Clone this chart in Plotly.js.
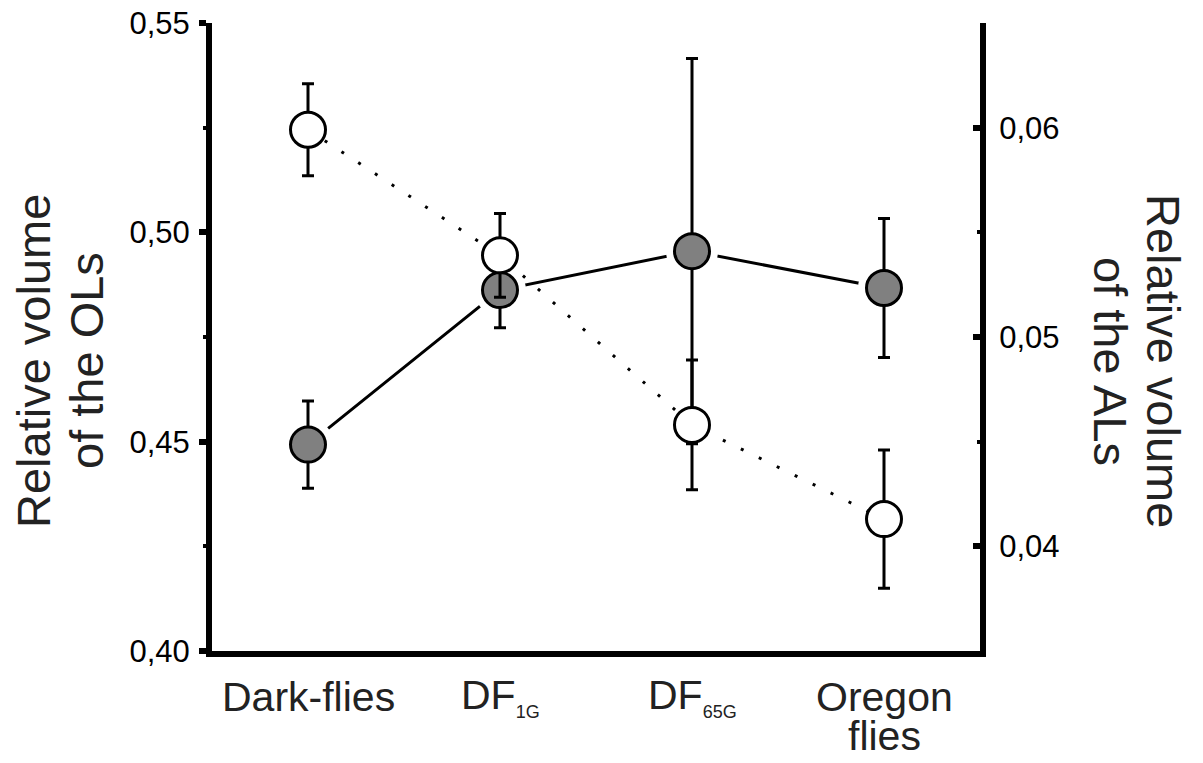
<!DOCTYPE html>
<html>
<head>
<meta charset="utf-8">
<script src="https://cdn.plot.ly/plotly-3.0.1.min.js"></script>
<style>html,body{margin:0;padding:0;background:#fff;}#chart{width:1203px;height:763px;}</style>
</head>
<body>
<div id="chart"></div>
<script>
// ---- data ----
const categories = ["Dark-flies", "DF<sub><span style=\"font-size:18px\">1G</span></sub>", "DF<sub><span style=\"font-size:18px\">65G</span></sub>", "Oregon<br>flies"];
const catIndex = [0, 1, 2, 3];
// Relative volume of the optic lobes (left axis, grey filled circles)
const olsMean = [0.4493, 0.4862, 0.4955, 0.4867];
const olsErr  = [0.0104, 0.0090, 0.0460, 0.0166];
// Relative volume of the antennal lobes (right axis, open circles)
const alsMean = [0.0599, 0.0539, 0.0458, 0.0413];
const alsErr  = [0.0022, 0.0020, 0.0031, 0.0033];
const leftTicks = [0.40, 0.45, 0.50, 0.55];
const leftMinor = [0.425, 0.475, 0.525];
const rightTicks = [0.04, 0.05, 0.06];
const rightMinor = [0.035, 0.045, 0.055, 0.065];

const FONT = "Arial, 'Liberation Sans', Helvetica, sans-serif";
const TXT = "#222222";

const traces = [
  { x: catIndex, y: olsMean, yaxis: "y", mode: "lines", hoverinfo: "skip", showlegend: false,
    line: { color: "#000", width: 3 } },
  { x: catIndex, y: olsMean, yaxis: "y", mode: "markers", hoverinfo: "skip", showlegend: false,
    marker: { size: 52, color: "#ffffff", line: { width: 0 } } },
  { x: catIndex, y: olsMean, yaxis: "y", mode: "markers", name: "OLs", showlegend: false,
    error_y: { type: "data", array: olsErr, visible: true, color: "#000", thickness: 3, width: 6 },
    marker: { size: 35, color: "#808080", line: { color: "#000", width: 3 } } },
  { x: catIndex, y: alsMean, yaxis: "y2", mode: "lines", hoverinfo: "skip", showlegend: false,
    line: { color: "#000", width: 3, dash: "3px,17px" } },
  { x: catIndex, y: alsMean, yaxis: "y2", mode: "markers", name: "ALs", showlegend: false,
    error_y: { type: "data", array: alsErr, visible: true, color: "#000", thickness: 3, width: 6 },
    marker: { size: 35, color: "#ffffff", line: { color: "#000", width: 3 } } }
];

const ML = 212, MR = 223, MT = 23, MB = 112, W = 1203, H = 763;
const PW = W - ML - MR, PH = H - MT - MB;
const px2x = p => (p - ML) / PW;
const px2y = p => (H - MB - p) / PH;

const annotations = [];
// category labels
categories.forEach((c, i) => {
  const lines = c.split("<br>");
  lines.forEach((ln, j) => {
    annotations.push({ x: catIndex[i], xref: "x", y: px2y(697 + j * 39), yref: "paper",
      text: ln, showarrow: false, xanchor: "center", yanchor: "middle",
      font: { family: FONT, size: 41, color: TXT } });
  });
});
// axis titles
const leftTitle = ["Relative volume", "of the OLs"];
const rightTitle = ["Relative volume", "of the ALs"];
[33, 86].forEach((p, j) => annotations.push({ x: px2x(p), xref: "paper", y: px2y(361), yref: "paper",
  text: leftTitle[j], textangle: -90, showarrow: false, xanchor: "center", yanchor: "middle",
  font: { family: FONT, size: 47, color: TXT } }));
[1164, 1111].forEach((p, j) => annotations.push({ x: px2x(p), xref: "paper", y: px2y(361), yref: "paper",
  text: rightTitle[j], textangle: 90, showarrow: false, xanchor: "center", yanchor: "middle",
  font: { family: FONT, size: 47, color: TXT } }));

const layout = {
  width: W, height: H,
  margin: { l: ML, r: MR, t: MT, b: MB, pad: 0 },
  paper_bgcolor: "#fff", plot_bgcolor: "#fff",
  separators: ",.",
  showlegend: false,
  font: { family: FONT, color: "#000" },
  xaxis: { range: [-0.5, 3.5], tickvals: catIndex, showticklabels: false, ticks: "",
    showline: true, linewidth: 6, linecolor: "#000", showgrid: false, zeroline: false, fixedrange: true },
  yaxis: { range: [0.40, 0.55], tickmode: "array", tickvals: leftTicks, tickformat: ".2f",
    ticks: "outside", ticklen: 7, tickwidth: 6, tickcolor: "#000", ticklabelstandoff: 3,
    minor: { tickmode: "array", tickvals: leftMinor, ticks: "outside", ticklen: 3, tickwidth: 4, tickcolor: "#000" },
    showline: true, linewidth: 6, linecolor: "#000", showgrid: false, zeroline: false,
    tickfont: { family: FONT, size: 31, color: "#000" } },
  yaxis2: { overlaying: "y", side: "right", range: [0.035, 0.065], tickmode: "array", tickvals: rightTicks, tickformat: ".2f",
    ticks: "inside", ticklen: 7, tickwidth: 6, tickcolor: "#000", ticklabelstandoff: 7,
    minor: { tickmode: "array", tickvals: rightMinor, ticks: "inside", ticklen: 3, tickwidth: 4, tickcolor: "#000" },
    showline: true, linewidth: 6, linecolor: "#000", showgrid: false, zeroline: false,
    tickfont: { family: FONT, size: 31, color: "#000" } },
  annotations: annotations
};

Plotly.newPlot("chart", traces, layout, { displayModeBar: false, staticPlot: true });
</script>
</body>
</html>
